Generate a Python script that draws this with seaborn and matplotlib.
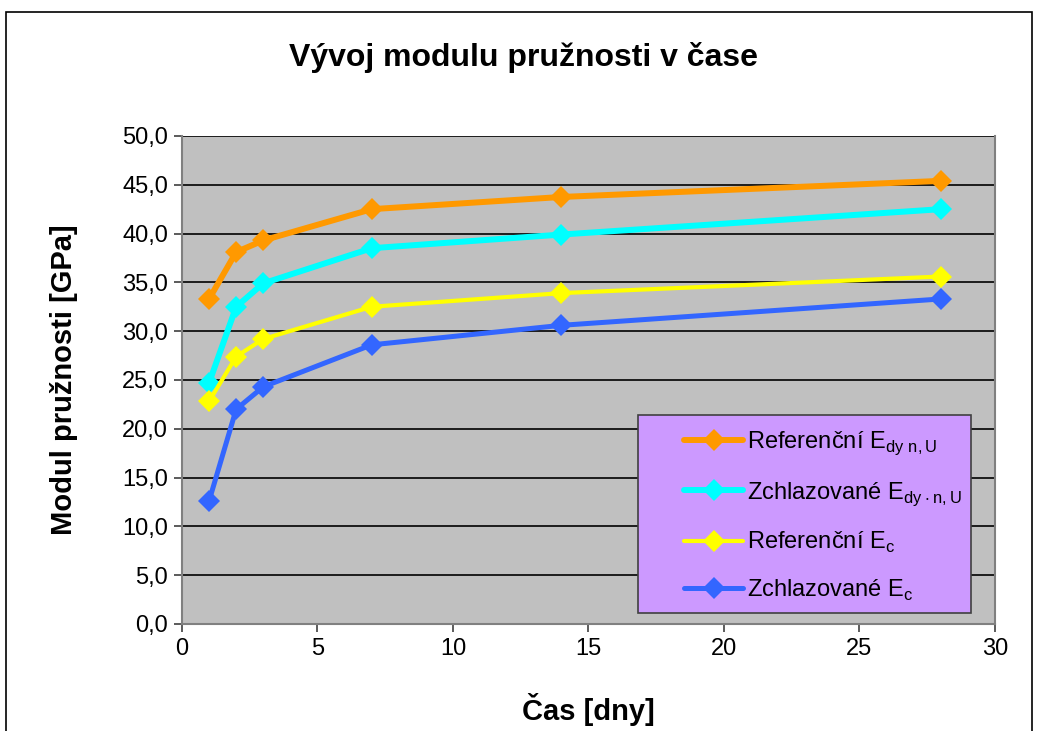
import pandas as pd
import seaborn as sns
import matplotlib.pyplot as plt
from matplotlib.patches import Rectangle
from matplotlib.ticker import FuncFormatter

# data
days = [1, 2, 3, 7, 14, 28]
ref_edyn = [33.3, 38.1, 39.3, 42.5, 43.75, 45.4]
zchl_edyn = [24.7, 32.5, 34.9, 38.5, 39.9, 42.5]
ref_ec = [22.8, 27.4, 29.2, 32.5, 33.9, 35.6]
zchl_ec = [12.6, 22.0, 24.3, 28.6, 30.6, 33.3]

labels = [r"Referenční E$_{\mathregular{dy\ n,U}}$",
          r"Zchlazované E$_{\mathregular{dy\cdot n,U}}$",
          r"Referenční E$_{\mathregular{c}}$",
          r"Zchlazované E$_{\mathregular{c}}$"]
colors = ["#FF9900", "#00FFFF", "#FFFF00", "#3366FF"]
widths = [4.3, 4.3, 3.0, 3.6]

sns.set_theme(style="white")
plt.rcParams['font.family'] = ['Liberation Sans', 'DejaVu Sans']
plt.rcParams['mathtext.fontset'] = 'custom'
plt.rcParams['mathtext.rm'] = 'Liberation Sans'
plt.rcParams['text.color'] = 'black'
plt.rcParams['axes.labelcolor'] = 'black'

fig = plt.figure(figsize=(10.41, 7.31), dpi=100)
fig.patches.append(Rectangle((0.006, -0.1), 0.985, 1.083, transform=fig.transFigure,
                             fill=False, edgecolor="black", linewidth=1.2))
ax = fig.add_axes([0.1748, 0.1464, 0.781, 0.6676])
ax.set_facecolor("#C0C0C0")

series = [ref_edyn, zchl_edyn, ref_ec, zchl_ec]
for vals, lab, col, lw in zip(series, labels, colors, widths):
    df = pd.DataFrame({"x": days, "y": vals})
    sns.lineplot(data=df, x="x", y="y", ax=ax, color=col, linewidth=lw, label=lab,
                 marker="D", markersize=11.5, markeredgewidth=0, zorder=3)

ax.set_xlim(0, 30)
ax.set_ylim(0, 50)
ax.set_xticks(range(0, 31, 5))
ax.set_yticks(range(0, 51, 5))
ax.yaxis.set_major_formatter(FuncFormatter(lambda v, p: f"{v:.1f}".replace(".", ",")))
ax.grid(axis="y", color="black", linewidth=1.2)
ax.set_axisbelow(True)
ax.spines["top"].set_visible(False)
for s in ["left", "bottom", "right"]:
    ax.spines[s].set_color("#808080")
    ax.spines[s].set_linewidth(1.5)
ax.tick_params(axis="both", direction="out", length=6, width=1.2, color="#404040",
               labelsize=17, labelcolor="black", bottom=True, left=True, pad=4)

ax.set_xlabel("Čas [dny]", fontsize=21, fontweight="bold")
ax.set_ylabel("Modul pružnosti [GPa]", fontsize=21, fontweight="bold")
ax.xaxis.set_label_coords(0.5, -0.142)
ax.yaxis.set_label_coords(-0.128, 0.5)
fig.text(0.503, 0.922, "Vývoj modulu pružnosti v čase", ha="center", va="center",
         fontsize=23, fontweight="bold", color="black")

# legend box
ax.add_patch(Rectangle((0.561, 0.0225), 0.409, 0.4055, transform=ax.transAxes,
                       facecolor="#CC99FF", edgecolor="#404040", linewidth=1.2, zorder=4))
leg = ax.legend(loc="upper left", bbox_to_anchor=(0.618, 0.398), borderaxespad=0,
                borderpad=0, fontsize=17, frameon=False, labelspacing=0.95,
                handlelength=2.5, handletextpad=0.15, labelcolor="black")
leg.set_zorder(5)

fig.savefig("out.png", dpi=100)
